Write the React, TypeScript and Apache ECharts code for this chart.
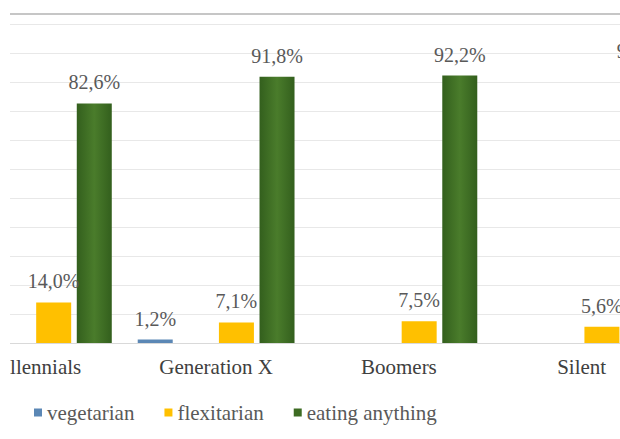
import { useEffect, useRef } from 'react';
import * as echarts from 'echarts';

const categories = ['Millennials', 'Generation X', 'Boomers', 'Silent'];
const vegetarian = [null, 1.2, null, null];
const spacer = [null, null, null, null];
const flexitarian = [14.0, 7.1, 7.5, 5.6];
const eatingAnything = [82.6, 91.8, 92.2, 93.4];
const legendNames = ['vegetarian', 'flexitarian', 'eating anything'];

export default function App() {
  const ref = useRef<HTMLDivElement>(null);
  useEffect(() => {
    const chart = echarts.init(ref.current!, null, { renderer: 'svg' });
    const font = 'Liberation Serif';
    const label = {
      show: true,
      position: 'top',
      distance: 11,
      fontFamily: font,
      fontSize: 20,
      color: '#595959',
      formatter: (p: any) =>
        p.value == null ? '' : Number(p.value).toFixed(1).replace('.', ',') + '%',
    };
    const green = new echarts.graphic.LinearGradient(0, 0, 1, 0, [
      { offset: 0, color: '#335f1d' },
      { offset: 0.5, color: '#4a7c2b' },
      { offset: 1, color: '#335f1d' },
    ]);
    chart.setOption({
      animation: false,
      backgroundColor: '#ffffff',
      textStyle: { fontFamily: font },
      grid: { left: 32, right: 37, top: 14, bottom: 96 },
      legend: {
        data: [
          { name: legendNames[0], itemStyle: { color: '#5b87b5' } },
          { name: legendNames[1], itemStyle: { color: '#ffc000' } },
          { name: legendNames[2], itemStyle: { color: '#3d6b22' } },
        ],
        left: 119,
        top: 397,
        icon: 'rect',
        itemWidth: 8,
        itemHeight: 8,
        itemGap: 30,
        textStyle: { fontFamily: font, fontSize: 21, color: '#595959' },
      },
      xAxis: {
        type: 'category',
        data: categories,
        axisLine: { lineStyle: { color: '#d9d9d9', width: 1 } },
        axisTick: { show: false },
        axisLabel: { interval: 0, margin: 13, fontFamily: font, fontSize: 21, color: '#404040' },
      },
      yAxis: {
        type: 'value',
        min: 0,
        max: 113.45,
        interval: 10,
        axisLabel: { show: false },
        axisLine: { show: false },
        axisTick: { show: false },
        splitLine: { lineStyle: { color: '#e8e8e8', width: 1 } },
      },
      graphic: [
        {
          type: 'line',
          z: 100,
          shape: { x1: 0, y1: 14, x2: 800, y2: 14 },
          style: { stroke: '#c6c6c6', lineWidth: 2 },
        },
      ],
      series: [
        {
          name: 'vegetarian',
          type: 'bar',
          data: vegetarian,
          barWidth: 35,
          barGap: '16%',
          itemStyle: { color: '#5b87b5' },
          label,
        },
        {
          name: '',
          type: 'bar',
          data: spacer,
          barWidth: 35,
          barGap: '16%',
          itemStyle: { color: '#ffffff' },
        },
        {
          name: 'flexitarian',
          type: 'bar',
          data: flexitarian,
          barWidth: 35,
          barGap: '16%',
          itemStyle: { color: '#ffc000' },
          label,
        },
        {
          name: 'eating anything',
          type: 'bar',
          data: eatingAnything,
          barWidth: 35,
          barGap: '16%',
          itemStyle: { color: green },
          label,
        },
      ],
    });
    return () => chart.dispose();
  }, []);
  return (
    <div
      style={{
        position: 'absolute',
        left: 10,
        top: 0,
        width: 610,
        height: 439,
        overflow: 'hidden',
        background: '#fff',
      }}
    >
      <div ref={ref} style={{ position: 'absolute', left: -100, top: 0, width: 800, height: 439 }} />
    </div>
  );
}
